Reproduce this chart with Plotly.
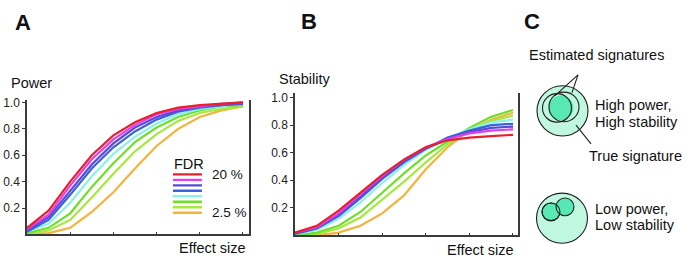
import plotly.graph_objects as go

W, H = 685, 263

# ---------------- data ----------------
effect_size = list(range(11))
fdr_labels = ["20 %", "17.5 %", "15 %", "12.5 %", "10 %", "7.5 %", "5 %", "2.5 %"]
fdr_colors = ["#e8202e", "#e040e8", "#5a4ad8", "#3a62e0", "#8cf2e6", "#6ee02a", "#a6e840", "#f6b23a"]

power = [
    [0.05, 0.18, 0.40, 0.60, 0.75, 0.85, 0.92, 0.96, 0.98, 0.99, 1.00],
    [0.04, 0.15, 0.37, 0.57, 0.72, 0.83, 0.91, 0.95, 0.97, 0.99, 1.00],
    [0.03, 0.13, 0.33, 0.53, 0.69, 0.81, 0.89, 0.94, 0.97, 0.98, 0.99],
    [0.02, 0.11, 0.30, 0.50, 0.66, 0.78, 0.87, 0.93, 0.96, 0.98, 0.99],
    [0.02, 0.08, 0.24, 0.44, 0.61, 0.74, 0.84, 0.91, 0.95, 0.97, 0.99],
    [0.01, 0.05, 0.16, 0.36, 0.54, 0.70, 0.81, 0.89, 0.94, 0.97, 0.98],
    [0.00, 0.03, 0.11, 0.28, 0.46, 0.63, 0.76, 0.86, 0.92, 0.95, 0.97],
    [0.00, 0.01, 0.05, 0.17, 0.32, 0.50, 0.67, 0.80, 0.89, 0.94, 0.97],
]

stability = [
    [0.02, 0.07, 0.18, 0.31, 0.44, 0.55, 0.64, 0.69, 0.71, 0.72, 0.73],
    [0.02, 0.06, 0.16, 0.30, 0.43, 0.55, 0.64, 0.70, 0.74, 0.76, 0.77],
    [0.015, 0.055, 0.15, 0.28, 0.42, 0.54, 0.63, 0.70, 0.75, 0.78, 0.79],
    [0.01, 0.05, 0.14, 0.27, 0.41, 0.53, 0.63, 0.71, 0.76, 0.80, 0.81],
    [0.01, 0.04, 0.12, 0.24, 0.38, 0.51, 0.62, 0.70, 0.77, 0.82, 0.84],
    [0.00, 0.02, 0.07, 0.17, 0.31, 0.45, 0.58, 0.68, 0.78, 0.86, 0.91],
    [0.00, 0.01, 0.05, 0.13, 0.26, 0.39, 0.53, 0.66, 0.76, 0.83, 0.87],
    [0.00, 0.00, 0.02, 0.07, 0.16, 0.29, 0.48, 0.64, 0.76, 0.84, 0.89],
]

y_ticks = [0.2, 0.4, 0.6, 0.8, 1.0]
y_tick_text = ["0.2", "0.4", "0.6", "0.8", "1.0"]
x_ticks = [0, 2, 4, 6, 8, 10]

# ---------------- helpers ----------------
def px(x):
    return x / W

def py(y):
    return 1 - y / H

FONT = "Liberation Sans, Arial, sans-serif"
AXC = "#3a3a3a"

fig = go.Figure()

# draw lowest FDR first so red ends on top
for i in reversed(range(len(fdr_labels))):
    fig.add_trace(go.Scatter(x=effect_size, y=power[i], mode="lines",
                             line=dict(color=fdr_colors[i], width=2.2),
                             xaxis="x", yaxis="y", showlegend=False, hoverinfo="skip"))
for i in reversed(range(len(fdr_labels))):
    fig.add_trace(go.Scatter(x=effect_size, y=stability[i], mode="lines",
                             line=dict(color=fdr_colors[i], width=2.2),
                             xaxis="x2", yaxis="y2", showlegend=False, hoverinfo="skip"))

# legend sample lines for panel A (in data coordinates of panel A)
leg_x0, leg_x1 = 6.76, 8.1
leg_y_top, leg_step = 0.455, 0.0415
shapes = []
for i, c in enumerate(fdr_colors):
    yv = leg_y_top - i * leg_step
    shapes.append(dict(type="line", xref="x", yref="y", x0=leg_x0, x1=leg_x1, y0=yv, y1=yv,
                       line=dict(color=c, width=2.4)))

axis_common = dict(showgrid=False, zeroline=False, showline=True, linecolor=AXC, linewidth=1.5)

fig.update_layout(
    width=W, height=H, margin=dict(l=0, r=0, t=0, b=0),
    paper_bgcolor="white", plot_bgcolor="white",
    font=dict(family=FONT, size=12, color="#222"),
    xaxis=dict(domain=[px(27), px(249)], range=[0, 10.28], anchor="y",
               tickvals=x_ticks, ticks="inside", ticklen=3, tickcolor=AXC,
               showticklabels=False, **axis_common),
    yaxis=dict(domain=[py(234), py(97)], range=[0, 1.022], anchor="x",
               tickvals=y_ticks, ticktext=y_tick_text, ticks="outside", ticklen=3,
               tickcolor=AXC, mirror=True, tickfont=dict(size=12, color="#222"),
               **axis_common),
    xaxis2=dict(domain=[px(295), px(518)], range=[0, 10.23], anchor="y2",
                tickvals=x_ticks, ticks="inside", ticklen=3, tickcolor=AXC,
                showticklabels=False, **axis_common),
    yaxis2=dict(domain=[py(235), py(90)], range=[0, 1.036], anchor="x2",
                tickvals=y_ticks, ticktext=y_tick_text, ticks="outside", ticklen=3,
                tickcolor=AXC, mirror=True, tickfont=dict(size=12, color="#222"),
                **axis_common),
)

# ---------------- panel C diagram (pixel geometry) ----------------
BIG_FILL = "rgb(192,247,224)"
SMALL_FILL = "rgb(88,232,182)"
OUT = "#1e1e1e"

def circle(cx, cy, r, fill=None, line=True, width=1.1):
    return dict(type="circle", xref="paper", yref="paper",
                x0=px(cx - r), x1=px(cx + r), y0=py(cy + r), y1=py(cy - r),
                fillcolor=fill if fill else "rgba(0,0,0,0)",
                line=dict(color=OUT if line else "rgba(0,0,0,0)", width=width))

def seg(x0, y0, x1, y1):
    return dict(type="line", xref="paper", yref="paper",
                x0=px(x0), y0=py(y0), x1=px(x1), y1=py(y1),
                line=dict(color=OUT, width=1.1))

# high power / high stability
shapes.append(circle(562.5, 108.5, 25.5, BIG_FILL))
shapes.append(circle(561, 105.5, 12.5, SMALL_FILL, line=False))
shapes.append(circle(557, 105.5, 14.5))
shapes.append(circle(564, 104.5, 15))
shapes.append(seg(578, 72, 555, 93))
shapes.append(seg(578, 72, 572, 90))
shapes.append(seg(576, 123, 591, 142))
# low power / low stability
shapes.append(circle(562, 217.5, 25.5, BIG_FILL))
shapes.append(circle(551, 211, 9, SMALL_FILL))
shapes.append(circle(565, 206, 9, SMALL_FILL))
shapes.append(circle(551, 211, 9))

fig.update_layout(shapes=shapes)

# ---------------- text ----------------
def label(text, x, y, size=14.5, xanchor="left", bold=False):
    return dict(text=f"<b>{text}</b>" if bold else text, x=px(x), y=py(y),
                xref="paper", yref="paper", xanchor=xanchor, yanchor="middle",
                showarrow=False, font=dict(family=FONT, size=size, color="#111"))

ann = [
    label("A", 13, 19, size=22, bold=True),
    label("B", 299, 18, size=22, bold=True),
    label("C", 522, 18, size=22, bold=True),
    label("Power", 9, 80),
    label("Stability", 277, 76),
    label("Effect size", 248, 248, xanchor="right"),
    label("Effect size", 516, 250, xanchor="right"),
    label("FDR", 172, 162),
    label("20 %", 210, 173, size=13.5),
    label("2.5 %", 210, 212, size=13.5),
    label("Estimated signatures", 527, 52),
    label("High power,", 593, 103),
    label("High stability", 593, 120),
    label("True signature", 587, 154),
    label("Low power,", 593, 208),
    label("Low stability", 593, 224),
]
fig.update_layout(annotations=ann)

fig.write_html("out.html", config={"displayModeBar": False},
               post_script="document.body.style.margin='0';document.body.style.overflow='hidden';")
